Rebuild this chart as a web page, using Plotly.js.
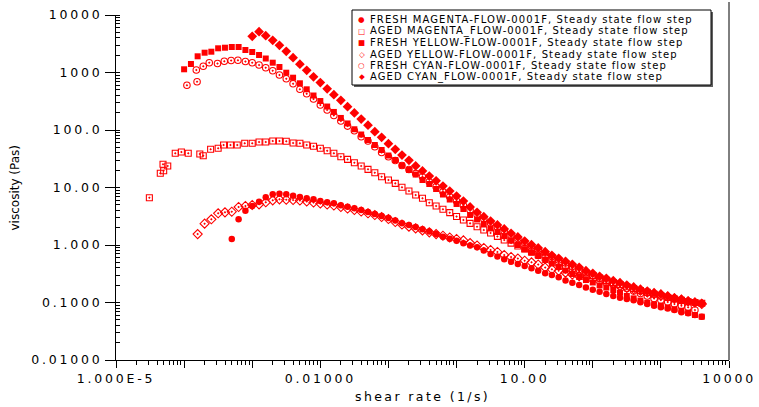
<!DOCTYPE html>
<html>
<head>
<meta charset="utf-8">
<script src="https://cdn.plot.ly/plotly-3.0.1.min.js"></script>
<style>
  html, body { margin: 0; padding: 0; background: #ffffff; }
  #chart { width: 759px; height: 407px; }
  .xtick text, .ytick text { letter-spacing: 2.8px; }
</style>
</head>
<body>
<div id="chart"></div>
<script>
// ---------------- DATA ----------------
// Shear-rate grid (1/s), 10 points per decade
const rateGrid = [
  1.00e-4, 1.26e-4, 1.58e-4, 2.00e-4, 2.51e-4, 3.16e-4, 3.98e-4, 5.01e-4, 6.31e-4, 7.94e-4,
  1.00e-3, 1.26e-3, 1.58e-3, 2.00e-3, 2.51e-3, 3.16e-3, 3.98e-3, 5.01e-3, 6.31e-3, 7.94e-3,
  0.0100, 0.0126, 0.0158, 0.0200, 0.0251, 0.0316, 0.0398, 0.0501, 0.0631, 0.0794,
  0.100, 0.126, 0.158, 0.200, 0.251, 0.316, 0.398, 0.501, 0.631, 0.794,
  1.00, 1.26, 1.58, 2.00, 2.51, 3.16, 3.98, 5.01, 6.31, 7.94,
  10.0, 12.6, 15.8, 20.0, 25.1, 31.6, 39.8, 50.1, 63.1, 79.4,
  100, 126, 158, 200, 251, 316, 398, 501, 631, 794,
  1000, 1260, 1580, 2000, 2510, 3160, 3980
];

const seriesNames = [
  "FRESH MAGENTA-FLOW-0001F, Steady state flow step",
  "AGED MAGENTA_FLOW-0001F, Steady state flow step",
  "FRESH YELLOW-FLOW-0001F, Steady state flow step",
  "AGED YELLOW-FLOW-0001F, Steady state flow step",
  "FRESH CYAN-FLOW-0001F, Steady state flow step",
  "AGED CYAN_FLOW-0001F, Steady state flow step"
];
const legendGlyphs = ["\u25CF", "\u25A1", "\u25A0", "\u25C7", "\u25CB", "\u25C6"];

// FRESH MAGENTA: starts at rateGrid index 7
const freshMagentaStart = 7;
const freshMagentaVisc = [
  1.27, 2.80, 3.95, 4.77, 5.66, 6.75, 7.62, 7.80, 7.62, 7.20,
  6.84, 6.49, 6.23, 5.82, 5.53, 5.31, 4.90, 4.64, 4.35, 4.06,
  3.75, 3.46, 3.19, 2.95, 2.67, 2.38, 2.23, 2.06, 1.88, 1.72,
  1.55, 1.39, 1.29, 1.19, 1.07, 0.980, 0.912, 0.802, 0.697, 0.631,
  0.564, 0.512, 0.467, 0.431, 0.393, 0.357, 0.322, 0.301, 0.274, 0.241,
  0.221, 0.201, 0.182, 0.166, 0.154, 0.141, 0.130, 0.121, 0.115, 0.109,
  0.101, 0.0942, 0.0880, 0.0825, 0.0787, 0.0741, 0.0676, 0.0649, 0.0606, 0.0566
];

// AGED MAGENTA: irregular low-rate points, then grid from index 10
const agedMagentaEarlyRate = [3.09e-5, 4.47e-5, 5.01e-5, 4.90e-5, 5.75e-5, 7.41e-5, 9.12e-5, 1.15e-4,
  1.70e-4, 1.91e-4, 2.45e-4, 3.16e-4, 3.80e-4, 4.79e-4, 6.03e-4, 7.76e-4];
const agedMagentaEarlyVisc = [6.65, 17.7, 19.6, 25.3, 23.7, 39.3, 41.4, 39.3,
  38.2, 35.7, 46.2, 48.1, 54.8, 54.8, 54.8, 58.7];
const agedMagentaStart = 10;
const agedMagentaVisc = [
  58.7, 61.8, 61.8, 64.4, 64.4, 63.6, 59.4, 58.7, 54.8, 52.1,
  48.1, 43.5, 39.3, 34.3, 30.9, 27.0, 23.7, 20.7, 18.1, 15.4,
  13.5, 11.8, 10.1, 8.69, 7.41, 6.49, 5.44, 4.77, 4.18, 3.65,
  3.13, 2.72, 2.38, 2.08, 1.82, 1.62, 1.41, 1.22, 1.08, 0.961,
  0.852, 0.756, 0.675, 0.604, 0.542, 0.486, 0.438, 0.395, 0.357, 0.323,
  0.294, 0.267, 0.243, 0.223, 0.205, 0.188, 0.174, 0.161, 0.150, 0.139,
  0.130, 0.122, 0.115, 0.109, 0.103, 0.100, 0.0969
];

// FRESH YELLOW: grid from index 0
const freshYellowStart = 0;
const freshYellowVisc = [
  1137, 1405, 1913, 2210, 2300, 2636, 2700, 2776, 2776, 2462,
  2273, 2015, 1752, 1481, 1246, 992, 812, 649, 510, 398,
  319, 256, 206, 162, 130, 103, 83.5, 67.0, 54.8, 44.9,
  36.0, 30.1, 24.1, 20.2, 16.8, 13.5, 11.5, 9.42, 7.55, 6.18,
  5.17, 4.23, 3.32, 2.78, 2.32, 1.94, 1.68, 1.43, 1.19, 1.00,
  0.842, 0.735, 0.644, 0.548, 0.477, 0.414, 0.360, 0.313, 0.278, 0.246,
  0.223, 0.198, 0.182, 0.165, 0.148, 0.130, 0.118, 0.108, 0.0992, 0.0930,
  0.0869, 0.0818, 0.0762, 0.0720, 0.0665, 0.0606, 0.0566
];

// AGED YELLOW: grid from index 2
const agedYellowStart = 2;
const agedYellowVisc = [
  1.55, 2.35, 2.80, 3.56, 3.70, 3.79, 4.58, 4.77, 4.96, 5.10,
  5.53, 5.99, 6.23, 6.13, 6.06, 5.94, 5.71, 5.48, 5.27, 5.06,
  4.86, 4.58, 4.31, 4.06, 3.82, 3.56, 3.32, 3.07, 2.83, 2.51,
  2.27, 2.08, 1.94, 1.79, 1.66, 1.55, 1.45, 1.35, 1.27, 1.20,
  1.08, 0.980, 0.887, 0.819, 0.756, 0.670, 0.618, 0.582, 0.533, 0.500,
  0.458, 0.406, 0.378, 0.357, 0.330, 0.307, 0.286, 0.267, 0.249, 0.234,
  0.218, 0.205, 0.192, 0.180, 0.170, 0.160, 0.150, 0.142, 0.133, 0.126,
  0.118, 0.111, 0.105, 0.0996, 0.0942
];

// FRESH CYAN: irregular low-rate points, then grid from index 10
const freshCyanEarlyRate = [1.10e-4, 1.55e-4, 1.51e-4, 1.91e-4, 2.34e-4, 3.09e-4, 3.89e-4, 4.90e-4, 6.17e-4, 7.94e-4];
const freshCyanEarlyVisc = [599, 692, 1105, 1282, 1481, 1434, 1566, 1617, 1630, 1553];
const freshCyanStart = 10;
const freshCyanVisc = [
  1481, 1350, 1212, 1075, 905, 777, 636, 512, 426, 346,
  272, 223, 179, 143, 117, 97.2, 76.5, 64.4, 51.2, 40.6,
  34.3, 29.5, 24.1, 20.6, 17.5, 15.4, 12.6, 10.3, 8.45, 6.92,
  5.82, 4.86, 4.06, 3.39, 2.87, 2.41, 2.06, 1.75, 1.49, 1.30,
  1.11, 0.961, 0.835, 0.726, 0.631, 0.548, 0.486, 0.423, 0.375, 0.332,
  0.295, 0.262, 0.237, 0.214, 0.194, 0.175, 0.158, 0.143, 0.130, 0.117,
  0.111, 0.102, 0.0942, 0.0880, 0.0825, 0.0741
];

// AGED CYAN: grid from index 10
const agedCyanStart = 10;
const agedCyanVisc = [
  4263, 5124, 4365, 3631, 2972, 2337, 1809, 1394, 1092, 842,
  667, 521, 411, 329, 254, 198, 155, 121, 93.4, 74.6,
  57.8, 46.2, 36.7, 29.7, 23.7, 19.4, 15.8, 13.1, 10.6, 8.69,
  7.11, 5.82, 4.58, 3.70, 3.11, 2.61, 2.23, 1.90, 1.60, 1.38,
  1.17, 1.01, 0.887, 0.765, 0.662, 0.587, 0.521, 0.462, 0.409, 0.357,
  0.322, 0.286, 0.264, 0.239, 0.221, 0.201, 0.186, 0.170, 0.158, 0.148,
  0.141, 0.130, 0.120, 0.114, 0.106, 0.101, 0.0969
];

// Axis ticks
const xTickVals = [1e-5, 1e-4, 1e-3, 1e-2, 1e-1, 1, 10, 100, 1000, 10000];
const xTickText = ["1.000E-5", "", "", "0.01000", "", "", "10.00", "", "", "10000"];
const yTickVals = [0.01, 0.1, 1, 10, 100, 1000, 10000];
const yTickText = ["0.01000", "0.1000", "1.000", "10.00", "100.0", "1000", "10000"];
const xTitle = "shear rate (1/s)";
const yTitle = "viscosity (Pas)";

// ---------------- BUILD ----------------
function gridX(start, arr) { return rateGrid.slice(start, start + arr.length); }
const RED = "#ff0000";

function mk(name, x, y, symbol, size, lw) {
  return {
    type: "scatter", mode: "markers", name: name, x: x, y: y,
    marker: { symbol: symbol, size: size, color: RED, line: { color: RED, width: lw } },
    hoverinfo: "skip", cliponaxis: true
  };
}

const traces = [
  mk(seriesNames[0], gridX(freshMagentaStart, freshMagentaVisc), freshMagentaVisc, "circle", 6.5, 0),
  mk(seriesNames[1], agedMagentaEarlyRate.concat(gridX(agedMagentaStart, agedMagentaVisc)),
     agedMagentaEarlyVisc.concat(agedMagentaVisc), "square-open-dot", 6, 1.1),
  mk(seriesNames[2], gridX(freshYellowStart, freshYellowVisc), freshYellowVisc, "square", 6, 0),
  mk(seriesNames[3], gridX(agedYellowStart, agedYellowVisc), agedYellowVisc, "diamond-open-dot", 7, 1.1),
  mk(seriesNames[4], freshCyanEarlyRate.concat(gridX(freshCyanStart, freshCyanVisc)),
     freshCyanEarlyVisc.concat(freshCyanVisc), "circle-open-dot", 6.5, 1.1),
  mk(seriesNames[5], gridX(agedCyanStart, agedCyanVisc), agedCyanVisc, "diamond", 7.5, 0)
];

// plot area: x 116..729, y 15..360
const PW = 613, PH = 345, L = 116, T = 15;
function px(xp) { return (xp - L) / PW; }
function py(yp) { return (T + PH - yp) / PH; }

const shapes = [
  { type: "line", xref: "paper", yref: "paper", x0: 1, x1: 1, y0: 0, y1: py(2), line: { color: "#000", width: 1 }, layer: "above" },
  { type: "rect", xref: "paper", yref: "paper", x0: px(354), x1: px(713), y0: py(87), y1: py(12),
    fillcolor: "#606060", line: { width: 0 }, layer: "above" },
  { type: "rect", xref: "paper", yref: "paper", x0: px(352), x1: px(711), y0: py(85), y1: py(10),
    fillcolor: "#ffffff", line: { color: "#000", width: 1 }, layer: "above" }
];

const rowY = [20, 31, 42.7, 54.3, 65.7, 76.7];
const annotations = [];
for (let i = 0; i < seriesNames.length; i++) {
  annotations.push({
    xref: "paper", yref: "paper", x: px(361.5), y: py(rowY[i]), xanchor: "center", yanchor: "middle",
    showarrow: false, text: legendGlyphs[i], font: { family: "DejaVu Sans", size: 7.5, color: RED }
  });
  annotations.push({
    xref: "paper", yref: "paper", x: px(367.5), y: py(rowY[i]), xanchor: "left", yanchor: "middle",
    showarrow: false, align: "left",
    text: '<span style="letter-spacing:1.1px">' + seriesNames[i] + '</span>',
    font: { family: "DejaVu Sans", size: 10, color: "#000" }
  });
}
annotations.push({
  xref: "paper", yref: "paper", x: 0.5, y: py(397), xanchor: "center", yanchor: "middle",
  showarrow: false, text: '<span style="letter-spacing:2.4px">' + xTitle + '</span>',
  font: { family: "DejaVu Sans", size: 12.5, color: "#000" }
});
annotations.push({
  xref: "paper", yref: "paper", x: px(14), y: 0.5, xanchor: "center", yanchor: "middle",
  showarrow: false, textangle: -90, text: yTitle,
  font: { family: "DejaVu Sans", size: 12, color: "#000" }
});

const tickFont = { family: "DejaVu Sans", size: 12.5, color: "#000" };
const layout = {
  width: 759, height: 407,
  margin: { l: L, r: 759 - L - PW, t: T, b: 407 - T - PH, pad: 0 },
  paper_bgcolor: "#ffffff", plot_bgcolor: "#ffffff",
  showlegend: false,
  font: { family: "DejaVu Sans", size: 12.5, color: "#000" },
  xaxis: {
    type: "log", range: [-5, 4], tickmode: "array", tickvals: xTickVals, ticktext: xTickText,
    tickangle: 0, ticks: "outside", ticklen: 7, tickwidth: 1, tickcolor: "#000",
    showline: true, linecolor: "#000", linewidth: 1, showgrid: false, zeroline: false,
    tickfont: tickFont, fixedrange: true,
    minor: { tickmode: "linear", dtick: "D1", ticks: "outside", ticklen: 4, tickwidth: 1, tickcolor: "#000", showgrid: false }
  },
  yaxis: {
    type: "log", range: [-2, 4], tickmode: "array", tickvals: yTickVals, ticktext: yTickText,
    ticks: "outside", ticklen: 10, tickwidth: 1, tickcolor: "#000",
    showline: true, linecolor: "#000", linewidth: 1, showgrid: false, zeroline: false,
    tickfont: tickFont, fixedrange: true,
    minor: { tickmode: "linear", dtick: "D1", ticks: "inside", ticklen: 4, tickwidth: 1, tickcolor: "#000", showgrid: false }
  },
  shapes: shapes,
  annotations: annotations
};

Plotly.newPlot("chart", traces, layout, { staticPlot: true, displayModeBar: false });
</script>
</body>
</html>
